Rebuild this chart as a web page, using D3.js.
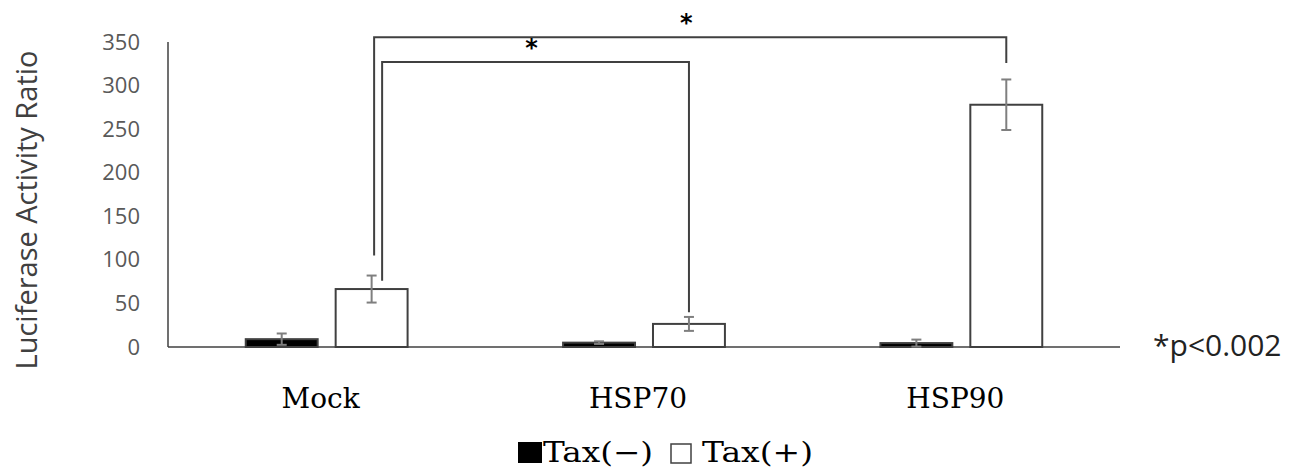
<!DOCTYPE html>
<html>
<head>
<meta charset="utf-8">
<script src="https://cdnjs.cloudflare.com/ajax/libs/d3/7.8.5/d3.min.js"></script>
<style>
  body { margin: 0; background: #fff; }
</style>
</head>
<body>
<div id="chart"></div>
<script>
// data
var groups = ["Mock", "HSP70", "HSP90"];
var series = ["Tax(\u2212)", "Tax(+)"];
var taxMinus = [9, 5, 4.5];
var taxPlus = [66.5, 26.5, 278];
var errMinus = [6.5, 1.5, 4];
var errPlus = [15.5, 8, 29];
var yTicks = [0, 50, 100, 150, 200, 250, 300, 350];

// significance brackets: [from group, to group, level, left end, right end]
var brackets = [
  { from: 0, to: 2, level: 355.5, leftEnd: 105, rightEnd: 326, dx: 2.5 },
  { from: 0, to: 1, level: 327, leftEnd: 76, rightEnd: 40, dx: 10.5 }
];

var svgWidth = 1303;
var svgHeight = 468;

var svg = d3.select("#chart")
  .append("svg")
  .attr("width", svgWidth)
  .attr("height", svgHeight);

var x0 = d3.scaleBand()
  .domain(groups)
  .range([168, 1120])
  .paddingInner(0.49)
  .paddingOuter(0.245);

var x1 = d3.scaleBand()
  .domain(series)
  .range([0, x0.bandwidth()])
  .paddingInner(0.2);

var y = d3.scaleLinear()
  .domain([0, 350])
  .range([347, 42]);

var rows = [];
groups.forEach(function(g, i) {
  rows.push({ g: g, s: series[0], v: taxMinus[i], e: errMinus[i] });
  rows.push({ g: g, s: series[1], v: taxPlus[i], e: errPlus[i] });
});

// y axis labels
var leftAxis = d3.axisLeft(y).tickValues(yTicks).tickSize(0).tickPadding(28);
var yAxis = svg.append("g")
  .attr("transform", "translate(168,0)")
  .call(leftAxis);
yAxis.select(".domain").remove();
yAxis.selectAll("text")
  .attr("fill", "#595959")
  .attr("font-family", "Open Sans")
  .attr("font-size", "22px");

// axis lines
svg.append("line")
  .attr("x1", 168).attr("x2", 168)
  .attr("y1", y(350)).attr("y2", y(0))
  .attr("stroke", "#404040").attr("stroke-width", 1.5);

// bars
var barG = svg.append("g");
barG.selectAll("rect")
  .data(rows)
  .enter()
  .append("rect")
  .attr("x", d => x0(d.g) + x1(d.s))
  .attr("y", d => y(d.v))
  .attr("width", x1.bandwidth())
  .attr("height", d => y(0) - y(d.v))
  .attr("fill", d => d.s === series[0] ? "#000" : "#fff")
  .attr("stroke", "#404040")
  .attr("stroke-width", 2);

svg.append("line")
  .attr("x1", 168).attr("x2", 1120)
  .attr("y1", y(0)).attr("y2", y(0))
  .attr("stroke", "#404040").attr("stroke-width", 1.5);

// error bars
var errG = svg.append("g")
  .attr("stroke", "#7f7f7f")
  .attr("stroke-width", 2);
rows.forEach(function(d) {
  var cx = x0(d.g) + x1(d.s) + x1.bandwidth() / 2;
  var lo = Math.max(d.v - d.e, 0);
  errG.append("line")
    .attr("x1", cx).attr("x2", cx)
    .attr("y1", y(d.v + d.e)).attr("y2", y(lo));
  errG.append("line")
    .attr("x1", cx - 5).attr("x2", cx + 5)
    .attr("y1", y(d.v + d.e)).attr("y2", y(d.v + d.e));
  if (d.v - d.e > 0) {
    errG.append("line")
      .attr("x1", cx - 5).attr("x2", cx + 5)
      .attr("y1", y(lo)).attr("y2", y(lo));
  }
});

// brackets
var brG = svg.append("g");
brackets.forEach(function(b) {
  var xl = x0(groups[b.from]) + x1(series[1]) + x1.bandwidth() / 2 + b.dx;
  var xr = x0(groups[b.to]) + x1(series[1]) + x1.bandwidth() / 2;
  brG.append("path")
    .attr("d", "M" + xl + "," + y(b.leftEnd) + "V" + y(b.level) + "H" + xr + "V" + y(b.rightEnd))
    .attr("fill", "none")
    .attr("stroke", "#404040")
    .attr("stroke-width", 2);
  brG.append("text")
    .attr("x", (xl + xr) / 2 - 4)
    .attr("y", y(b.level) - 6)
    .attr("text-anchor", "middle")
    .attr("font-family", "DejaVu Sans")
    .attr("font-weight", "bold")
    .attr("font-size", "24px")
    .text("*");
});

// x labels
svg.append("g").selectAll("text")
  .data(groups)
  .enter()
  .append("text")
  .attr("x", d => x0(d) + x0.bandwidth() / 2 - 6)
  .attr("y", 408)
  .attr("text-anchor", "middle")
  .attr("font-family", "DejaVu Serif")
  .attr("font-size", "28px")
  .text(d => d);

// y title
svg.append("text")
  .attr("transform", "translate(37,210) rotate(-90)")
  .attr("text-anchor", "middle")
  .attr("font-family", "Open Sans")
  .attr("font-size", "29px")
  .attr("fill", "#404040")
  .text("Luciferase Activity Ratio");

// p value note
svg.append("text")
  .attr("x", 1153)
  .attr("y", 356)
  .attr("font-family", "Open Sans")
  .attr("font-size", "30px")
  .attr("fill", "#222")
  .text("*p<0.002");

// legend
var legend = svg.append("g");
legend.append("rect")
  .attr("x", 518).attr("y", 442).attr("width", 24).attr("height", 21)
  .attr("fill", "#000");
legend.append("text")
  .attr("x", 543).attr("y", 462)
  .attr("font-family", "DejaVu Serif")
  .attr("font-size", "28px")
  .attr("textLength", 110)
  .attr("lengthAdjust", "spacingAndGlyphs")
  .text(series[0]);
legend.append("rect")
  .attr("x", 671).attr("y", 444).attr("width", 20).attr("height", 19)
  .attr("fill", "#fff").attr("stroke", "#404040").attr("stroke-width", 1.5);
legend.append("text")
  .attr("x", 702).attr("y", 462)
  .attr("font-family", "DejaVu Serif")
  .attr("font-size", "28px")
  .attr("textLength", 111)
  .attr("lengthAdjust", "spacingAndGlyphs")
  .text(series[1]);
</script>
</body>
</html>
